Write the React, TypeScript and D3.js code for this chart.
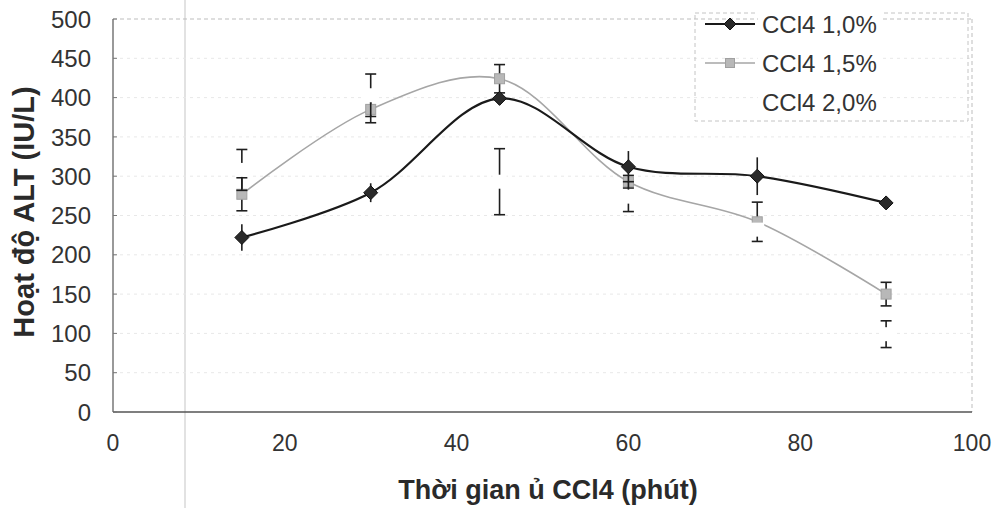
import React from "react";
import * as d3 from "d3";

// thời gian ủ (phút)
const times = [15, 30, 45, 60, 75, 90];

// CCl4 1,0%
const alt10 = [222, 279, 399, 312, 300, 266];
const err10 = [17, 12, 5, 20, 24, 5];

// CCl4 1,5%
const alt15 = [277, 385, 424, 293, 242, 150];
const err15 = [21, 17, 18, 8, 25, 15];

// CCl4 2,0% (no line, white marker)
const alt20 = [308, 403, 293, 274, 232, 99];
const err20 = [26, 27, 42, 19, 5, 17];

const xTicks = [0, 20, 40, 60, 80, 100];
const yTicks = [0, 50, 100, 150, 200, 250, 300, 350, 400, 450, 500];
const legendLabels = ["CCl4 1,0%", "CCl4 1,5%", "CCl4 2,0%"];

const W = 996;
const H = 508;
const FONT = "'Liberation Sans', Arial, sans-serif";

export default function App() {
  const x = d3.scaleLinear().domain([0, 100]).range([113, 972]);
  const y = d3.scaleLinear().domain([0, 500]).range([412, 19]);

  const line = d3
    .line<number>()
    .x((d, i) => x(times[i]))
    .y((d) => y(d))
    .curve(d3.curveCatmullRom.alpha(0.5));

  const errBars = (vals: number[], errs: number[], cap: number, key: string) =>
    vals.map((v, i) => {
      const cx = x(times[i]);
      const y1 = y(v + errs[i]);
      const y2 = y(v - errs[i]);
      return (
        <g key={key + i} stroke="#1e1e1e" strokeWidth={1.6}>
          <line x1={cx} x2={cx} y1={y1} y2={y2} />
          {cap > 0 && <line x1={cx - cap / 2} x2={cx + cap / 2} y1={y1} y2={y1} />}
          {cap > 0 && <line x1={cx - cap / 2} x2={cx + cap / 2} y1={y2} y2={y2} />}
        </g>
      );
    });

  const diamond = (cx: number, cy: number, r: number, key: string) => (
    <path
      key={key}
      d={`M${cx},${cy - r}L${cx + r},${cy}L${cx},${cy + r}L${cx - r},${cy}Z`}
      fill="#2a2a2a"
      stroke="#111"
      strokeWidth={1}
    />
  );

  const square = (cx: number, cy: number, s: number, key: string) => (
    <rect
      key={key}
      x={cx - s / 2}
      y={cy - s / 2}
      width={s}
      height={s}
      fill="#b8b8b8"
      stroke="#a0a0a0"
      strokeWidth={1}
    />
  );

  const x0 = x(0);
  const x1 = x(100);
  const y0 = y(0);
  const yTop = y(500);

  // legend
  const lgX = 695;
  const lgY = 13;
  const lgW = 273;
  const lgH = 108;
  const rowY = [24, 63, 102];

  return (
    <svg width={W} height={H} style={{ position: "absolute", left: 0, top: 0, background: "#fff" }}>
      <rect x={0} y={0} width={W} height={H} fill="#fff" />

      {/* scan fold */}
      <line x1={185} x2={185} y1={0} y2={H} stroke="#d8d8d8" strokeWidth={1.5} />

      {/* faint gridlines */}
      {yTicks.slice(1, -1).map((t) => (
        <line
          key={"g" + t}
          x1={x0}
          x2={x1}
          y1={y(t)}
          y2={y(t)}
          stroke="#e8e8e8"
          strokeWidth={1}
          strokeDasharray="3 4"
        />
      ))}

      {/* plot frame */}
      <line x1={x0} x2={x1} y1={yTop} y2={yTop} stroke="#bdbdbd" strokeWidth={1} strokeDasharray="4 3" />
      <line x1={x1} x2={x1} y1={yTop} y2={y0} stroke="#bdbdbd" strokeWidth={1} strokeDasharray="4 3" />
      <line x1={x0} x2={x0} y1={yTop} y2={y0} stroke="#555" strokeWidth={1.2} />
      <line x1={x0} x2={x1} y1={y0} y2={y0} stroke="#555" strokeWidth={1.4} />
      {yTicks.map((t) => (
        <line key={"yt" + t} x1={x0} x2={x0 + 4} y1={y(t)} y2={y(t)} stroke="#777" strokeWidth={1} />
      ))}

      {/* y tick labels */}
      {yTicks.map((t) => (
        <text
          key={"yl" + t}
          x={91}
          y={y(t)}
          dy="0.36em"
          textAnchor="end"
          fontFamily={FONT}
          fontSize={24}
          fill="#333"
        >
          {t}
        </text>
      ))}

      {/* x tick labels */}
      {xTicks.map((t) => (
        <text
          key={"xl" + t}
          x={x(t)}
          y={451}
          textAnchor="middle"
          fontFamily={FONT}
          fontSize={23}
          fill="#333"
        >
          {t}
        </text>
      ))}

      {/* axis titles */}
      <text
        x={548}
        y={499}
        textAnchor="middle"
        fontFamily={FONT}
        fontSize={27}
        fontWeight="bold"
        fill="#2a2a2a"
      >
        Thời gian ủ CCl4 (phút)
      </text>
      <text
        transform="translate(34,212) rotate(-90)"
        textAnchor="middle"
        fontFamily={FONT}
        fontSize={29}
        fontWeight="bold"
        fill="#2a2a2a"
      >
        Hoạt độ ALT (IU/L)
      </text>

      {/* CCl4 1,5% */}
      <path d={line(alt15) || ""} fill="none" stroke="#a6a6a6" strokeWidth={1.6} />
      {errBars(alt15, err15, 11, "e15")}
      {alt15.map((v, i) => square(x(times[i]), y(v), 10, "s15" + i))}

      {/* CCl4 1,0% */}
      <path d={line(alt10) || ""} fill="none" stroke="#1a1a1a" strokeWidth={2.2} />
      {errBars(alt10, err10, 0, "e10")}
      {alt10.map((v, i) => diamond(x(times[i]), y(v), 7, "d10" + i))}

      {/* CCl4 2,0% */}
      {errBars(alt20, err20, 11, "e20")}
      {alt20.map((v, i) => (
        <rect
          key={"w20" + i}
          x={x(times[i]) - 7}
          y={y(v) - 7}
          width={14}
          height={14}
          fill="#fff"
        />
      ))}

      {/* legend */}
      <rect
        x={lgX}
        y={lgY}
        width={lgW}
        height={lgH}
        fill="none"
        stroke="#c4c4c4"
        strokeWidth={1}
        strokeDasharray="4 3"
      />
      {legendLabels.map((lab, i) => (
        <g key={"lg" + i}>
          <rect x={758} y={rowY[i] - 14} width={124} height={28} fill="#fff" />
          <text
            x={762}
            y={rowY[i]}
            dy="0.36em"
            fontFamily={FONT}
            fontSize={24}
            fill="#333"
          >
            {lab}
          </text>
        </g>
      ))}
      <line x1={705} x2={755} y1={rowY[0]} y2={rowY[0]} stroke="#1a1a1a" strokeWidth={2.2} />
      {diamond(730, rowY[0], 6, "lgd")}
      <line x1={705} x2={755} y1={rowY[1]} y2={rowY[1]} stroke="#a6a6a6" strokeWidth={1.6} />
      {square(730, rowY[1], 9, "lgs")}
    </svg>
  );
}
